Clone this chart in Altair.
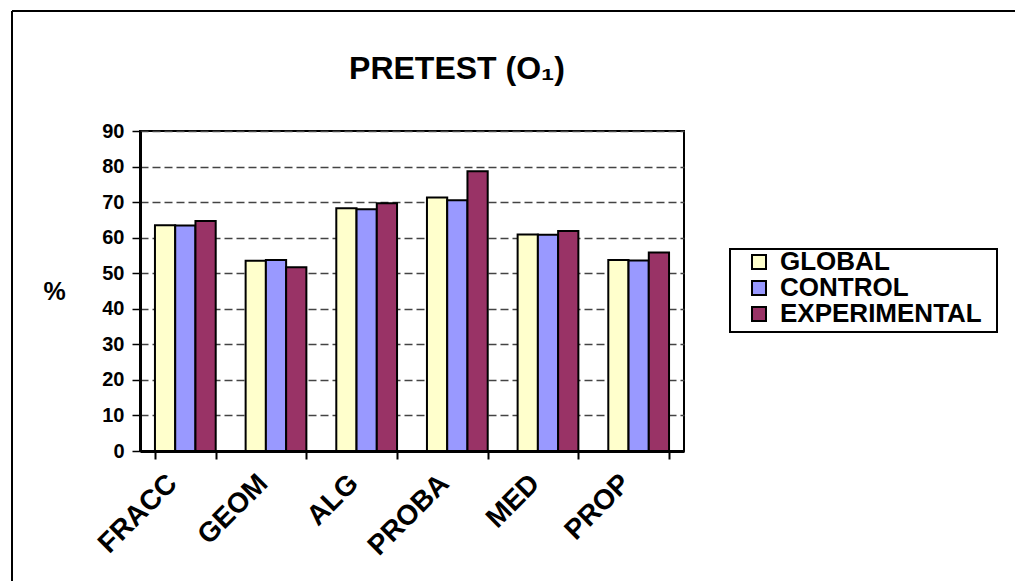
import altair as alt
import pandas as pd

# Percentage scores per topic for each group (pretest)
categories = ["FRACC", "GEOM", "ALG", "PROBA", "MED", "PROP"]
series_names = ["GLOBAL", "CONTROL", "EXPERIMENTAL"]
global_pct = [63.5, 53.5, 68.3, 71.3, 60.9, 53.7]
control_pct = [63.4, 53.7, 68.0, 70.5, 60.8, 53.6]
experimental_pct = [64.7, 51.7, 69.7, 78.7, 61.9, 55.8]
series_colors = ["#FFFFCC", "#9999FF", "#993366"]
y_ticks = list(range(0, 91, 10))
chart_title = ["PRETEST (O₁)"]

FONT = "Liberation Sans"

rows = []
for name, vals in zip(series_names, [global_pct, control_pct, experimental_pct]):
    for cat, v in zip(categories, vals):
        rows.append({"category": cat, "series": name, "value": v})
df = pd.DataFrame(rows)

W, H = 544, 320
one = pd.DataFrame({"k": [0]})

bars = alt.Chart(df).mark_bar(stroke="black", strokeWidth=2).encode(
    x=alt.X(
        "category:N",
        sort=categories,
        title=None,
        scale=alt.Scale(paddingInner=0.33, paddingOuter=0.165),
        axis=alt.Axis(
            labelAngle=-45,
            labelAlign="right",
            labelBaseline="middle",
            labelFontSize=28,
            labelFontWeight="bold",
            labelFont=FONT,
            labelColor="black",
            labelPadding=20,
            labelOffset=-13,
            tickBand="extent",
            tickSize=8,
            tickColor="black",
            tickWidth=2,
            domainColor="black",
            domainWidth=3,
            grid=False,
        ),
    ),
    xOffset=alt.XOffset(
        "series:N",
        sort=series_names,
        scale=alt.Scale(paddingInner=0, paddingOuter=0),
    ),
    y=alt.Y(
        "value:Q",
        scale=alt.Scale(domain=[0, 90]),
        title="%",
        axis=alt.Axis(
            values=y_ticks,
            labelFontSize=20,
            labelFontWeight="bold",
            labelFont=FONT,
            labelColor="black",
            labelPadding=8,
            tickSize=8,
            tickColor="black",
            tickWidth=1.5,
            domainColor="black",
            domainWidth=3,
            grid=True,
            gridColor="#444444",
            gridDash=[8, 4],
            gridWidth=1.5,
            titleAngle=0,
            titleFontSize=25,
            titleFontWeight="bold",
            titleFont=FONT,
            titleColor="black",
            titleAlign="center",
            titleBaseline="middle",
            titleX=-86,
            titleY=160,
        ),
    ),
    color=alt.Color(
        "series:N",
        sort=series_names,
        scale=alt.Scale(domain=series_names, range=series_colors),
        legend=alt.Legend(
            title=None,
            orient="none",
            legendX=606,
            legendY=120,
            symbolType="square",
            symbolSize=196,
            symbolStrokeColor="black",
            symbolStrokeWidth=2,
            symbolOpacity=1,
            labelFontSize=26,
            labelFontWeight="bold",
            labelFont=FONT,
            labelColor="black",
            labelOffset=8,
            labelLimit=400,
            clipHeight=22,
            rowPadding=0,
            padding=0,
        ),
    ),
)

# Outer chart frame (left and top edges)
frame_left = alt.Chart(one).mark_rule(color="black", strokeWidth=2).encode(
    x=alt.value(-128), y=alt.value(-120), y2=alt.value(H + 130)
)
frame_top = alt.Chart(one).mark_rule(color="black", strokeWidth=2).encode(
    x=alt.value(-128), x2=alt.value(W + 331), y=alt.value(-120)
)
# Box around the legend entries
legend_box = alt.Chart(one).mark_rect(
    fill="white", stroke="black", strokeWidth=2
).encode(
    x=alt.value(590), x2=alt.value(857), y=alt.value(118), y2=alt.value(201)
)
# Chart heading, centred over the chart area
heading = alt.Chart(pd.DataFrame({"t": chart_title})).mark_text(
    font=FONT,
    fontSize=32,
    fontWeight="bold",
    color="black",
    align="center",
    baseline="alphabetic",
).encode(text="t:N", x=alt.value(317), y=alt.value(-52))

chart = alt.layer(frame_left, frame_top, legend_box, heading, bars).properties(
    width=W,
    height=H,
    autosize=alt.AutoSizeParams(type="none"),
    padding={"left": 140, "top": 131, "right": 331, "bottom": 130},
    background="white",
).configure_view(stroke="black", strokeWidth=2)

chart.save("out.html", embed_options={"renderer": "svg", "actions": False})
